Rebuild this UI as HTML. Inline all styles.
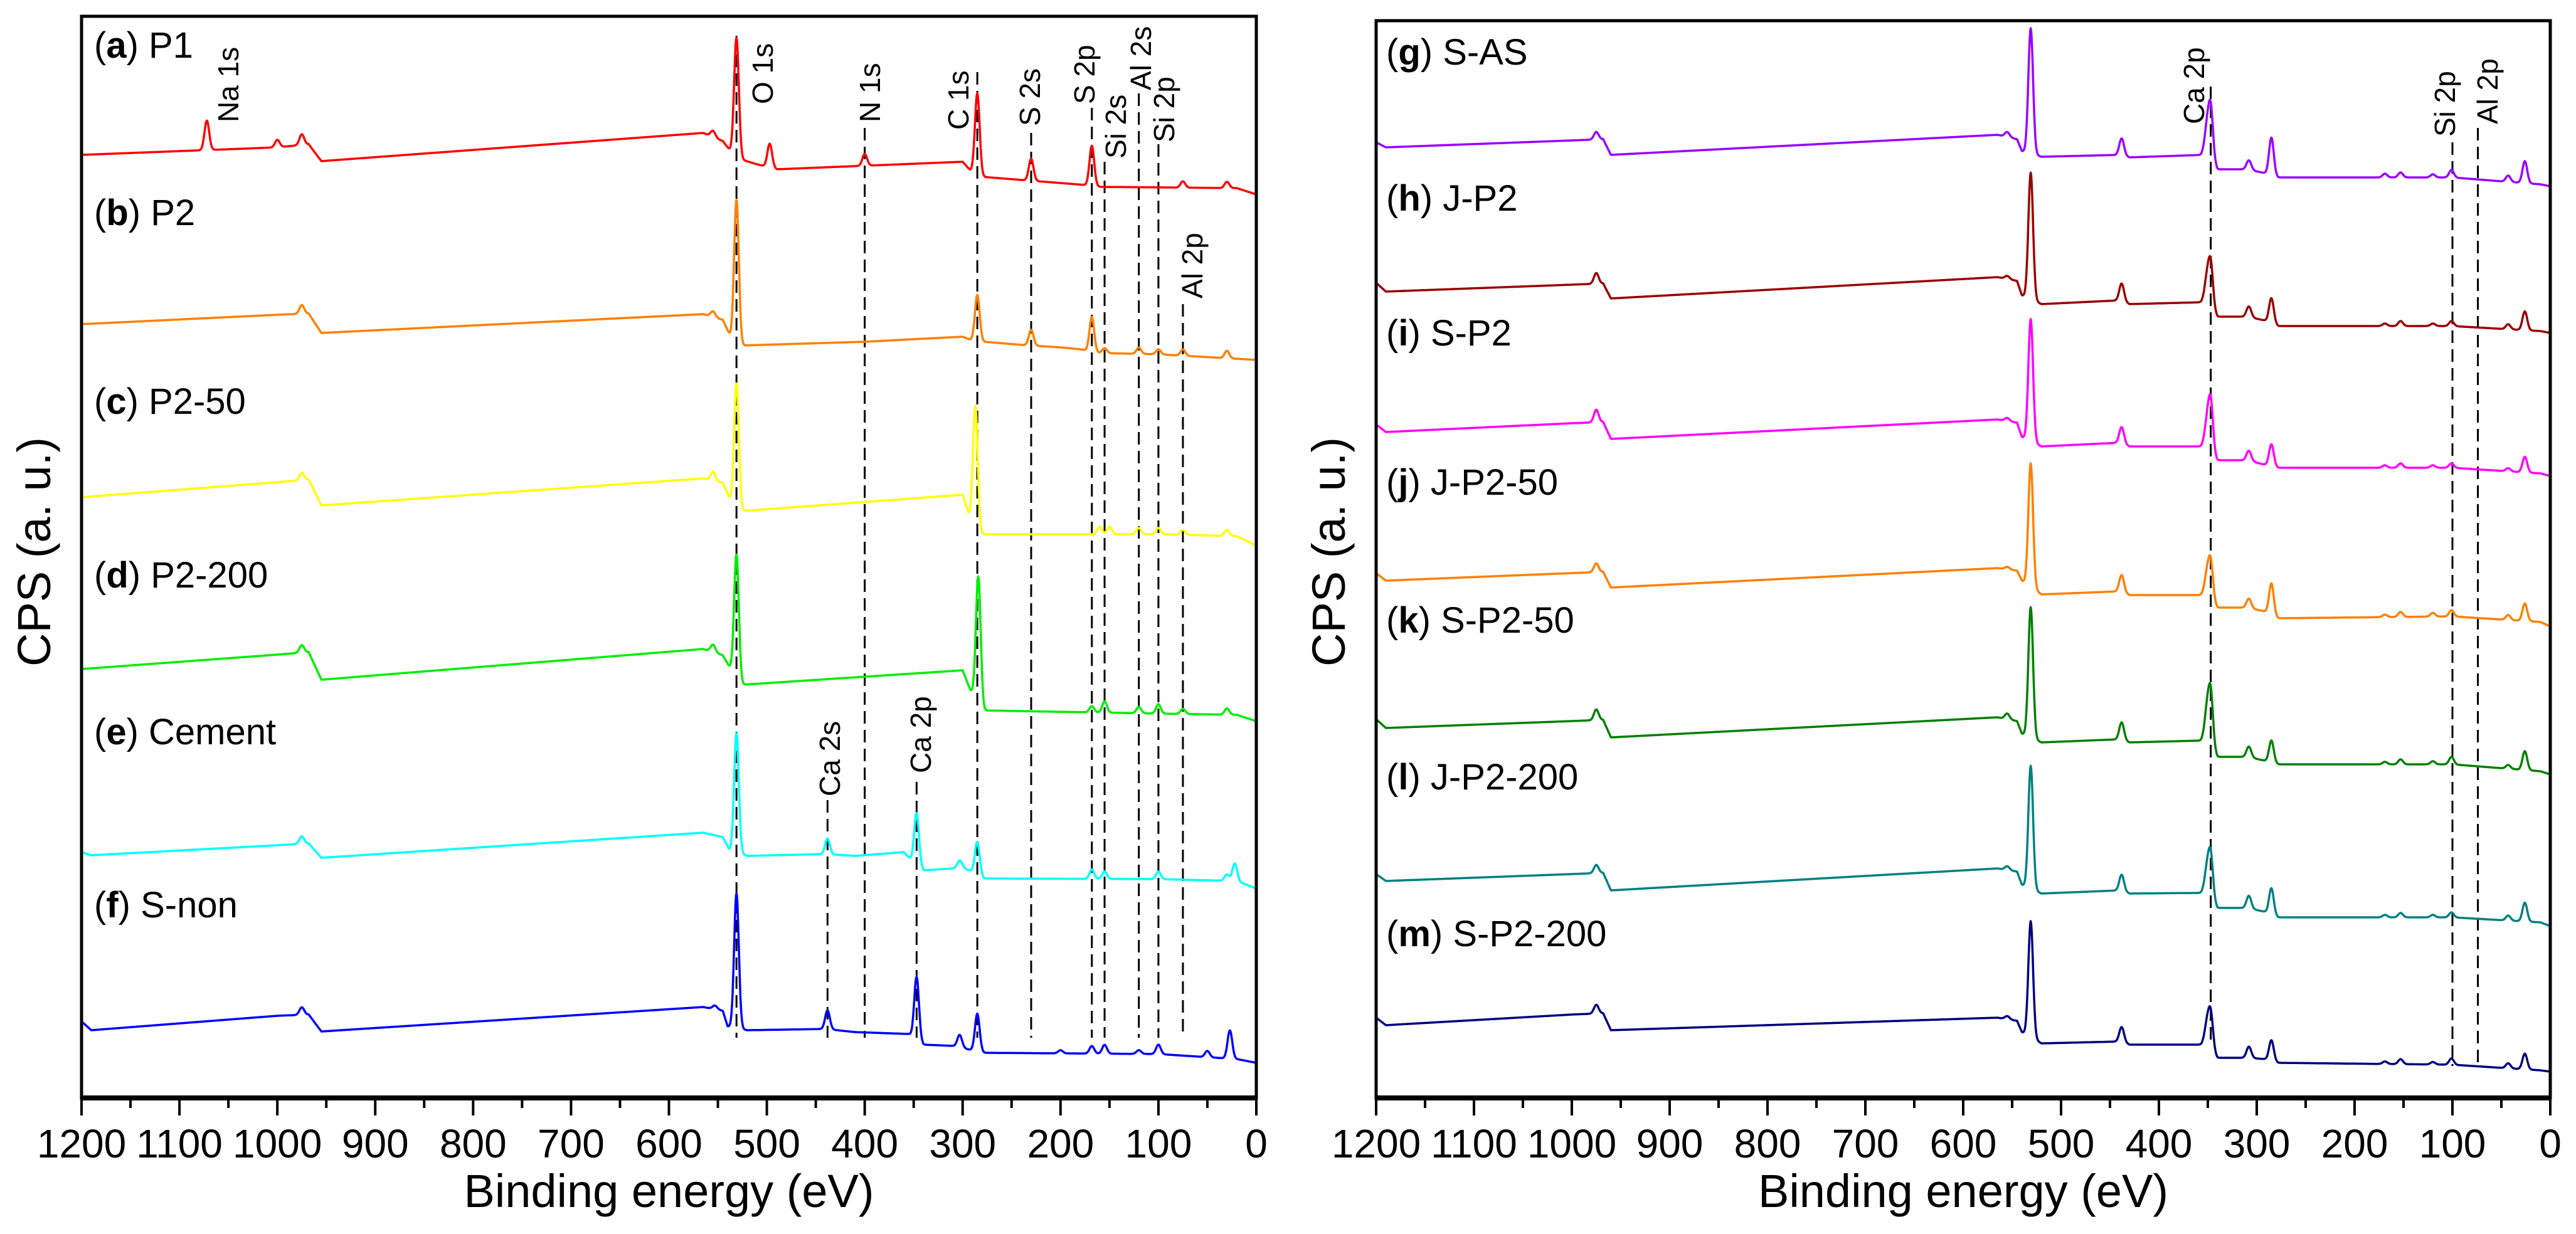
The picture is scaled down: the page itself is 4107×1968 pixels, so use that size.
<!DOCTYPE html>
<html><head><meta charset="utf-8"><style>
html,body{margin:0;padding:0;background:#fff;}
svg{display:block;font-family:"Liberation Sans",Arial,sans-serif;}
</style></head><body>
<svg id="chart" width="4107" height="1968" viewBox="0 0 4107 1968" xmlns="http://www.w3.org/2000/svg">
<rect x="0" y="0" width="4107" height="1968" fill="#fff"/>
<g id="plots"></g>
</svg>
<script>
// ---------- DATA ----------
const tickValues = [1200,1100,1000,900,800,700,600,500,400,300,200,100,0];
const tickLabels = ["1200","1100","1000","900","800","700","600","500","400","300","200","100","0"];

// Left panel series (background breakpoints + peaks)
const pA_E = [1200,1000,968,955,565,545,537,525,510,490,300,292,280,240,215,175,160,20,0];
const pA_V = [1504,1516,1521,1494,1539,1526,1510,1496,1489,1481,1493,1479,1469,1464,1461,1456,1453,1451,1441];
const pA_pkE = [1072,1000,975,555,531,497,400,285,230,168,75,30];
const pA_pkH = [47,12,17,10,188,38,19,129,35,64,10,10];

const pB_E = [1200,1000,968,955,565,545,537,525,400,300,292,278,240,200,180,160,100,0];
const pB_V = [1234,1249,1251,1220,1250,1241,1214,1200,1206,1214,1209,1206,1201,1197,1194,1188,1186,1177];
const pB_pkE = [975,555,531,285,230,168,155,120,100,75,30];
const pB_pkH = [14,9,225,73,25,55,8,10,8,10,12];

const pC_E = [1200,1000,968,955,565,545,537,525,300,293,280,100,20,0];
const pC_V = [958,982,986,945,988,981,953,936,962,927,899,899,896,881];
const pC_pkE = [975,555,531,287,160,150,120,100,75,30];
const pC_pkH = [12,14,195,190,12,12,10,10,8,10];

const pD_E = [1200,1000,968,955,565,545,537,525,300,292,278,100,20,0];
const pD_V = [684,707,711,667,716,706,684,659,682,650,618,613,611,601];
const pD_pkE = [975,555,531,284,168,155,120,100,75,30];
const pD_pkH = [12,12,195,200,10,18,10,15,8,10];

const pE_E = [1200,1190,1000,968,955,565,545,538,520,440,410,360,352,340,300,290,278,100,20,0];
const pE_V = [392,387,403,406,383,423,416,395,386,389,386,392,379,363,367,361,350,349,346,334];
const pE_pkE = [975,531,438,347,303,285,168,155,100,30,22];
const pE_pkH = [12,190,25,82,12,52,15,12,12,10,28];

const pF_E = [1200,1190,1000,968,955,565,545,540,520,440,410,355,340,310,290,278,100,20,0];
const pF_V = [122,108,131,133,106,145,139,114,108,110,105,102,85,83,76,72,70,62,56];
const pF_pkE = [975,553,531,438,347,303,285,200,168,155,120,100,50,27];
const pF_pkH = [12,6,215,30,100,20,60,5,12,14,6,15,10,45];

// Right panel: shared breakpoints & peak energies
const rightBgE = [1200,1190,1000,968,960,565,545,540,520,440,430,355,340,310,292,278,100,10,0];
const rightPkE = [975,555,531,438,351,347,308,285,169,153,120,101,43,26];

const pG_V = [1524,1516,1527,1529,1504,1536,1529,1510,1501,1504,1500,1504,1481,1481,1475,1468,1468,1457,1454];
const pG_pkH = [12,8,200,27,45,85,15,60,6,8,5,12,10,35];
const pH_V = [1300,1286,1297,1299,1275,1309,1303,1280,1266,1272,1266,1269,1246,1246,1240,1231,1231,1223,1220];
const pH_pkH = [17,5,202,28,40,72,17,40,4,8,4,8,8,30];
const pI_V = [1074,1062,1076,1078,1051,1082,1077,1054,1039,1045,1039,1039,1017,1017,1010,1005,1005,996,992];
const pI_pkH = [20,5,195,26,40,82,16,35,4,7,4,7,5,25];
const pJ_V = [837,825,837,839,814,845,841,825,803,808,802,802,782,782,776,765,768,759,752];
const pJ_pkH = [14,4,197,27,35,62,15,50,4,8,6,10,8,28];
const pK_V = [604,590,601,603,575,607,601,581,567,572,567,570,544,544,538,532,532,521,516];
const pK_pkH = [17,9,208,28,50,88,17,35,4,8,5,12,6,30];
const pL_V = [357,346,357,359,331,366,361,340,326,331,326,327,303,303,297,288,288,280,274];
const pL_pkH = [13,6,196,26,40,72,20,42,4,7,4,8,8,30];
const pM_V = [128,116,133,135,108,128,123,105,87,90,85,85,64,64,62,56,53,44,42];
const pM_pkH = [14,5,185,24,35,60,18,33,4,8,4,10,8,25];

const leftNames = ["P1","P2","P2-50","P2-200","Cement","S-non"];
const leftLetters = ["a","b","c","d","e","f"];
const rightNames = ["S-AS","J-P2","S-P2","J-P2-50","S-P2-50","J-P2-200","S-P2-200"];
const rightLetters = ["g","h","i","j","k","l","m"];

// reference line energies and labels
const leftRefE = [1072,531,400,285,230,168,155,120,100,75,438,347];
const leftRefLabels = ["Na 1s","O 1s","N 1s","C 1s","S 2s","S 2p","Si 2s","Al 2s","Si 2p","Al 2p","Ca 2s","Ca 2p"];
const rightRefE = [347,100,74];
const rightRefLabels = ["Ca 2p","Si 2p","Al 2p"];

// ---------- LAYOUT ----------
const NS = "http://www.w3.org/2000/svg";
const root = document.getElementById("plots");
const Y0 = 1751;
const panels = [
  {x0:130, x1:2003, top:26, name:"left"},
  {x0:2194, x1:4066, top:33, name:"right"}
];
function sx(p, E){ return p.x0 + (1200 - E) / 1200 * (p.x1 - p.x0); }
function sy(v){ return Y0 - v; }
function mk(tag, attrs, parent){
  const el = document.createElementNS(NS, tag);
  for (const k in attrs) el.setAttribute(k, attrs[k]);
  (parent || root).appendChild(el);
  return el;
}
function interp(E, xs, ys){
  for (let i = 0; i < xs.length - 1; i++){
    if (E <= xs[i] && E >= xs[i+1]){
      const t = (xs[i] - E) / (xs[i] - xs[i+1] || 1);
      return ys[i] + t * (ys[i+1] - ys[i]);
    }
  }
  return ys[ys.length - 1];
}
function spectrumPath(p, bgE, bgV, pkE, pkH){
  let d = "";
  const sig = 2.4;
  for (let E = 1200; E >= 0; E -= 0.5){
    let v = interp(E, bgE, bgV);
    for (let k = 0; k < pkE.length; k++){
      const z = (E - pkE[k]) / sig;
      if (Math.abs(z) < 6) v += pkH[k] * Math.exp(-0.5 * z * z);
    }
    d += (d ? "L" : "M") + sx(p, E).toFixed(1) + "," + sy(v).toFixed(1);
  }
  return d;
}

// ---------- DASHED REFERENCE LINES & LABELS ----------
const leftLineTop = [0,57,204,115,212,172,258,149,230,485,1276,1247];
const leftLabelX = [364,1216,1387,1528,1642,1729,1779,1819,1856,1901,1323,1468];
const leftLabelBottom = [195,166,195,207,201,166,253,144,227,476,1270,1233];
const P = panels[0], R = panels[1];
for (let i = 0; i < leftRefE.length; i++){
  if (i > 0){
    const ln = mk("line", {x1:sx(P,leftRefE[i]), x2:sx(P,leftRefE[i]), y1:leftLineTop[i], y2:1655, stroke:"#000", "stroke-width":3, "stroke-dasharray":"20 10"});
    
    
  }
  const t = mk("text", {x:leftLabelX[i]+16, y:leftLabelBottom[i], "font-size":46, transform:"rotate(-90 " + (leftLabelX[i]+16) + " " + leftLabelBottom[i] + ")"});
  t.textContent = leftRefLabels[i];
  
  
}
const rightLineTop = [138,227,204];
const rightLineBottom = [1665,1700,1700];
const rightLabelX = [3498,3898,3966];
const rightLabelBottom = [198,218,198];
for (let i = 0; i < rightRefE.length; i++){
  const ln = mk("line", {x1:sx(R,rightRefE[i]), x2:sx(R,rightRefE[i]), y1:rightLineTop[i], y2:rightLineBottom[i], stroke:"#000", "stroke-width":3, "stroke-dasharray":"20 10"});
  
  
  const t = mk("text", {x:rightLabelX[i]+16, y:rightLabelBottom[i], "font-size":46, transform:"rotate(-90 " + (rightLabelX[i]+16) + " " + rightLabelBottom[i] + ")"});
  t.textContent = rightRefLabels[i];
  
  
}

// ---------- SPECTRA ----------
const leftSeries = [[pA_E,pA_V,pA_pkE,pA_pkH],[pB_E,pB_V,pB_pkE,pB_pkH],[pC_E,pC_V,pC_pkE,pC_pkH],[pD_E,pD_V,pD_pkE,pD_pkH],[pE_E,pE_V,pE_pkE,pE_pkH],[pF_E,pF_V,pF_pkE,pF_pkH]];
const leftColors = ["#ff0000","#ff8000","#ffff00","#00ee00","#00ffff","#0000ff"];
const leftLabelY = [92,359,660,937,1187,1463];
for (let i = 0; i < leftSeries.length; i++){
  const s = leftSeries[i];
  const path = mk("path", {d:spectrumPath(P, s[0], s[1], s[2], s[3]), fill:"none", stroke:leftColors[i], "stroke-width":3.5, "stroke-linejoin":"round"});
  
  
  const t = mk("text", {x:150, y:leftLabelY[i], "font-size":58});
  t.innerHTML = '(<tspan font-weight="bold">' + leftLetters[i] + '</tspan>) ' + leftNames[i];
  
  
}
const rightV = [pG_V,pH_V,pI_V,pJ_V,pK_V,pL_V,pM_V];
const rightH = [pG_pkH,pH_pkH,pI_pkH,pJ_pkH,pK_pkH,pL_pkH,pM_pkH];
const rightColors = ["#9900ff","#990000","#ff00ff","#ff8000","#008000","#008080","#000080"];
const rightLabelY = [103,336,551,789,1009,1259,1509];
for (let i = 0; i < rightV.length; i++){
  const path = mk("path", {d:spectrumPath(R, rightBgE, rightV[i], rightPkE, rightH[i]), fill:"none", stroke:rightColors[i], "stroke-width":3.5, "stroke-linejoin":"round"});
  
  
  const t = mk("text", {x:2210, y:rightLabelY[i], "font-size":58});
  t.innerHTML = '(<tspan font-weight="bold">' + rightLetters[i] + '</tspan>) ' + rightNames[i];
  
  
}

// ---------- AXES ----------
panels.forEach(function(p){
  const fr = mk("rect", {x:p.x0, y:p.top, width:p.x1-p.x0, height:Y0-p.top, fill:"none", stroke:"#000", "stroke-width":5});
  
  
  const ax = mk("line", {x1:p.x0-2, x2:p.x1+2, y1:Y0, y2:Y0, stroke:"#000", "stroke-width":8});
  
  
  for (let E = 1200; E >= 0; E -= 50){
    const major = (E % 100 === 0);
    const tk = mk("line", {x1:sx(p,E), x2:sx(p,E), y1:Y0, y2:Y0 + (major ? 28 : 16), stroke:"#000", "stroke-width":4});
    
    
  }
  for (let i = 0; i < tickValues.length; i++){
    const t = mk("text", {x:sx(p,tickValues[i]), y:1846, "font-size":64, "text-anchor":"middle"});
    t.textContent = tickLabels[i];
    
    
  }
  const xt = mk("text", {x:(p.x0+p.x1)/2, y:1925, "font-size":74, "text-anchor":"middle"});
  xt.textContent = "Binding energy (eV)";
  
  
  const cx = p.x0 - 50, cy = 880;
  const yt = mk("text", {x:cx, y:cy, "font-size":74, "text-anchor":"middle", transform:"rotate(-90 " + cx + " " + cy + ")"});
  yt.textContent = "CPS (a. u.)";
  
  
});
</script>
</body></html>
